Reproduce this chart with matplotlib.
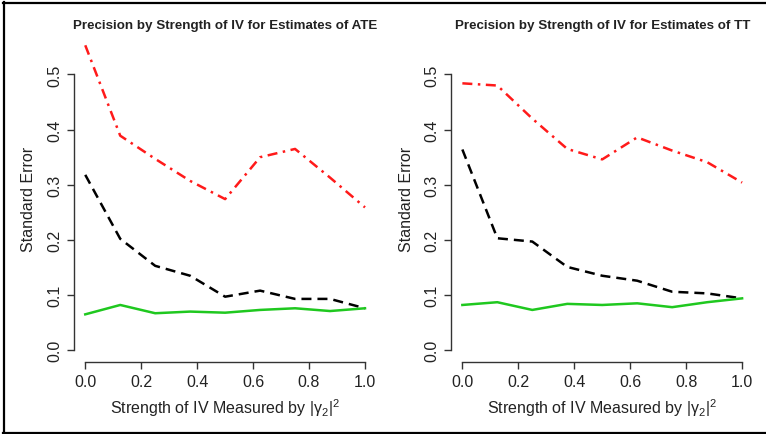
import numpy as np
import matplotlib
matplotlib.use("Agg")
import matplotlib.pyplot as plt
from matplotlib.lines import Line2D

plt.rcParams["font.family"] = ["Liberation Sans", "DejaVu Sans"]
plt.rcParams["mathtext.fontset"] = "custom"
plt.rcParams["mathtext.rm"] = "Liberation Sans"
plt.rcParams["mathtext.it"] = "Liberation Sans:italic"
plt.rcParams["mathtext.default"] = "regular"

# strength of IV, |gamma_2|^2
strength = [0.0, 0.125, 0.25, 0.375, 0.5, 0.625, 0.75, 0.875, 1.0]

# standard errors, ATE panel
ate_red   = [0.553, 0.389, 0.347, 0.307, 0.274, 0.350, 0.365, 0.313, 0.259]
ate_black = [0.318, 0.202, 0.153, 0.135, 0.097, 0.108, 0.093, 0.093, 0.076]
ate_green = [0.065, 0.082, 0.067, 0.070, 0.068, 0.073, 0.076, 0.071, 0.076]

# standard errors, TT panel
tt_red   = [0.484, 0.480, 0.420, 0.365, 0.346, 0.386, 0.362, 0.341, 0.304]
tt_black = [0.364, 0.203, 0.197, 0.151, 0.135, 0.126, 0.106, 0.103, 0.094]
tt_green = [0.082, 0.087, 0.073, 0.084, 0.082, 0.085, 0.078, 0.087, 0.094]

panels = [
    ("Precision by Strength of IV for Estimates of ATE", ate_red, ate_black, ate_green, 0.0967, -0.152),
    ("Precision by Strength of IV for Estimates of TT", tt_red, tt_black, tt_green, 0.589, -0.149),
]

xticks = [0.0, 0.2, 0.4, 0.6, 0.8, 1.0]
yticks = [0.0, 0.1, 0.2, 0.3, 0.4, 0.5]
txt = "#222222"

fig = plt.figure(figsize=(7.66, 4.35), dpi=100)

for title, red, black, green, left, ylab_x in panels:
    ax = fig.add_axes([left, 0.1648, 0.3944, 0.7529])
    ax.plot(strength, red, color="#ff1a1a", lw=1.8, linestyle=(0, (4, 2.2, 1, 2.2)))
    ax.plot(strength, black, color="black", lw=1.8, linestyle=(0, (4, 2.4)))
    ax.plot(strength, green, color="#1fc81f", lw=1.8)

    ax.set_xlim(-0.04, 1.04)
    ax.set_ylim(-0.022, 0.572)
    ax.set_xticks(xticks)
    ax.set_xticklabels([f"{v:.1f}" for v in xticks])
    ax.set_yticks(yticks)
    ax.set_yticklabels([f"{v:.1f}" for v in yticks], rotation=90, va="center")

    for s in ("top", "right"):
        ax.spines[s].set_visible(False)
    ax.spines["left"].set_bounds(0, 0.5)
    ax.spines["bottom"].set_bounds(0, 1)
    for s in ("left", "bottom"):
        ax.spines[s].set_color("#333333")
        ax.spines[s].set_linewidth(1.0)
    ax.tick_params(length=5, width=1.0, color="#333333", labelsize=11.5,
                   labelcolor=txt, pad=3.5)

    ax.set_title(title, fontsize=9.6, fontweight="bold", color=txt, pad=5)
    ax.set_xlabel(r"Strength of IV Measured by $|\gamma_2|^2$", fontsize=11.5,
                  color=txt, va="center")
    ax.xaxis.set_label_coords(0.5, -0.137)
    ax.set_ylabel("Standard Error", fontsize=11.5, color=txt, va="center")
    ax.yaxis.set_label_coords(ylab_x, 0.5)

# frame lines around the picture (top, left, bottom)
W, H = 766, 435
for xs, ys in [((3, W), (4, 4)), ((4, 4), (3, 434)), ((3, W), (433.5, 433.5))]:
    fig.add_artist(Line2D([x / W for x in xs], [1 - y / H for y in ys],
                          color="black", lw=1.6, transform=fig.transFigure))

fig.savefig("out.png", dpi=100)
